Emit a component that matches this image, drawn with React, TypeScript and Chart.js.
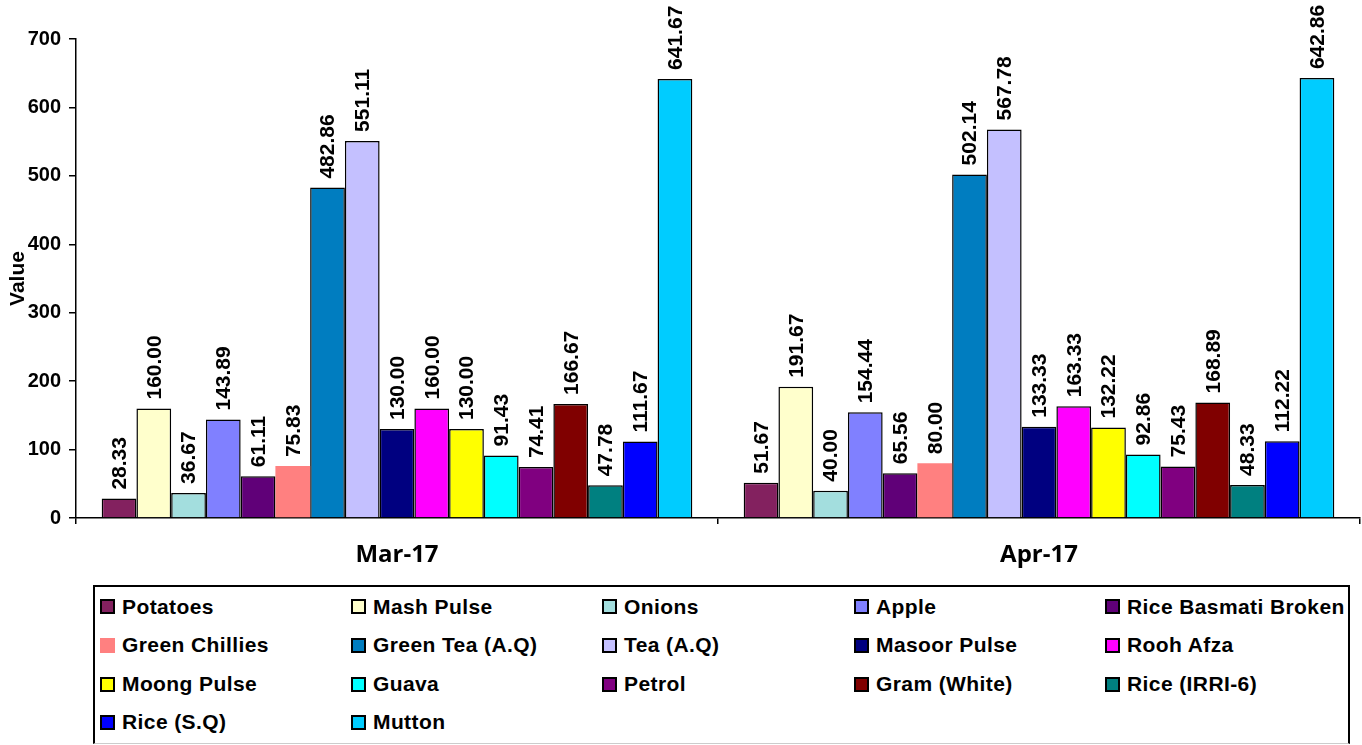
import React, { useEffect, useRef } from "react";
import { Chart, registerables } from "chart.js";

Chart.register(...registerables);

const categories = ["Mar-17", "Apr-17"];

const seriesNames = [
  "Potatoes",
  "Mash Pulse",
  "Onions",
  "Apple",
  "Rice Basmati Broken",
  "Green Chillies",
  "Green Tea (A.Q)",
  "Tea (A.Q)",
  "Masoor Pulse",
  "Rooh Afza",
  "Moong Pulse",
  "Guava",
  "Petrol",
  "Gram (White)",
  "Rice (IRRI-6)",
  "Rice (S.Q)",
  "Mutton",
];

const marValues = [
  28.33, 160.0, 36.67, 143.89, 61.11, 75.83, 482.86, 551.11, 130.0, 160.0,
  130.0, 91.43, 74.41, 166.67, 47.78, 111.67, 641.67,
];

const aprValues = [
  51.67, 191.67, 40.0, 154.44, 65.56, 80.0, 502.14, 567.78, 133.33, 163.33,
  132.22, 92.86, 75.43, 168.89, 48.33, 112.22, 642.86,
];

const seriesColors = [
  "#83215F",
  "#FFFFCC",
  "#A3DEDE",
  "#8080FF",
  "#600078",
  "#FF8080",
  "#007DC0",
  "#C4C0FF",
  "#000080",
  "#FF00FF",
  "#FFFF00",
  "#00FFFF",
  "#800080",
  "#800000",
  "#008080",
  "#0000FF",
  "#00CCFF",
];

const noBorderSeries = ["Green Chillies"];

const yMin = 0;
const yMax = 700;
const yStep = 100;

const legendColumnX = [100, 351, 602, 854, 1105];
const legendRowY = [606.7, 645.3, 684, 722];

const valueLabels = {
  id: "valueLabels",
  afterDatasetsDraw(chart: any) {
    const ctx = chart.ctx;
    ctx.save();
    ctx.font = 'bold 21px "Liberation Sans", Arial, sans-serif';
    ctx.fillStyle = "#000";
    ctx.textAlign = "left";
    ctx.textBaseline = "middle";
    chart.data.datasets.forEach((ds: any, di: number) => {
      const meta = chart.getDatasetMeta(di);
      meta.data.forEach((bar: any, i: number) => {
        const v = ds.data[i];
        ctx.save();
        ctx.translate(bar.x + 1, bar.y - 9);
        ctx.rotate(-Math.PI / 2);
        ctx.fillText(Number(v).toFixed(2), 0, 0);
        ctx.restore();
      });
    });
    ctx.restore();
  },
};

export default function App() {
  const canvasRef = useRef<HTMLCanvasElement | null>(null);

  useEffect(() => {
    if (!canvasRef.current) return;
    const chart = new Chart(canvasRef.current, {
      type: "bar",
      data: {
        labels: categories,
        datasets: seriesNames.map((name, i) => ({
          label: name,
          data: [marValues[i], aprValues[i]],
          backgroundColor: seriesColors[i],
          borderColor: "#000000",
          borderWidth: noBorderSeries.includes(name) ? 0 : 1.5,
        })),
      },
      options: {
        responsive: false,
        animation: false,
        events: [],
        layout: { padding: { top: 39, right: 2, left: 0, bottom: 0 } },
        datasets: {
          bar: { categoryPercentage: 0.92, barPercentage: 1.0 },
        },
        plugins: {
          legend: { display: false },
          tooltip: { enabled: false },
        },
        scales: {
          x: {
            afterFit: (scale: any) => {
              scale.height = 67;
            },
            grid: {
              display: true,
              drawOnChartArea: false,
              drawTicks: true,
              tickLength: 6,
              color: "#000",
              lineWidth: 1.5,
              offset: true,
            },
            border: { display: true, color: "#000", width: 1.5 },
            ticks: {
              color: "#000",
              padding: 17,
              font: { family: '"Open Sans", sans-serif', weight: "bold", size: 24 },
            },
          },
          y: {
            min: yMin,
            max: yMax,
            afterFit: (scale: any) => {
              scale.width = 76;
            },
            grid: {
              display: true,
              drawOnChartArea: false,
              drawTicks: true,
              tickLength: 7,
              color: "#000",
              lineWidth: 1.5,
            },
            border: { display: true, color: "#000", width: 1.5 },
            ticks: {
              stepSize: yStep,
              color: "#000",
              padding: 8,
              font: { family: '"Liberation Sans", Arial, sans-serif', weight: "bold", size: 20 },
            },
            title: {
              display: true,
              text: "Value",
              color: "#000",
              padding: { top: 6, bottom: 0 },
              font: { family: '"Liberation Sans", Arial, sans-serif', weight: "bold", size: 21 },
            },
          },
        },
      },
      plugins: [valueLabels],
    });
    return () => chart.destroy();
  }, []);

  return (
    <div
      style={{
        position: "absolute",
        left: 0,
        top: 0,
        width: 1362,
        height: 745,
        background: "#fff",
        overflow: "hidden",
      }}
    >
      <canvas
        ref={canvasRef}
        width={1362}
        height={585}
        style={{ display: "block", width: 1362, height: 585 }}
      />
      <div
        style={{
          position: "absolute",
          left: 93,
          top: 585,
          width: 1257,
          height: 159,
          boxSizing: "border-box",
          borderTop: "2px solid #000",
          borderLeft: "2px solid #000",
          borderRight: "2px solid #000",
          borderBottom: "1px solid #ccc",
        }}
      >
        {seriesNames.map((name, i) => {
          const col = i % 5;
          const row = Math.floor(i / 5);
          const centerY = legendRowY[row];
          const noBorder = noBorderSeries.includes(name);
          return (
            <div
              key={name}
              style={{
                position: "absolute",
                left: legendColumnX[col] - 95,
                top: centerY - 587 - 13,
                height: 26,
                display: "flex",
                alignItems: "center",
                whiteSpace: "nowrap",
                fontFamily: '"Liberation Sans", Arial, sans-serif',
                fontWeight: "bold",
                fontSize: 21,
                letterSpacing: 0.4,
                color: "#000",
              }}
            >
              <span
                style={{
                  display: "inline-block",
                  width: 15,
                  height: 15,
                  boxSizing: "border-box",
                  border: noBorder ? "none" : "2px solid #000",
                  background: seriesColors[i],
                  marginRight: 7,
                }}
              />
              <span>{name}</span>
            </div>
          );
        })}
      </div>
    </div>
  );
}
